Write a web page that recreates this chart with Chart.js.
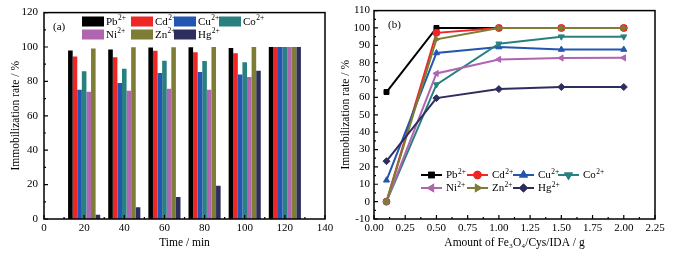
<!DOCTYPE html>
<html>
<head>
<meta charset="utf-8">
<script src="https://cdn.jsdelivr.net/npm/chart.js@4.4.1/dist/chart.umd.min.js"></script>
<style>
  html, body { margin: 0; padding: 0; background: #fff; }
  #wrap { position: relative; width: 675px; height: 262px; overflow: hidden; }
  canvas { position: absolute; top: 0; }
  #ca { left: 0; }
  #cb { left: 335px; }
</style>
</head>
<body>
<div id="wrap">
  <canvas id="ca" width="340" height="262"></canvas>
  <canvas id="cb" width="340" height="262"></canvas>
</div>
<script>
// ---------- data ----------
const ions = ['Pb', 'Cd', 'Cu', 'Co', 'Ni', 'Zn', 'Hg'];
const charge = '2+';
const ionColors = ['#000000', '#ee2626', '#2356b0', '#2a8080', '#b065b0', '#7d7d36', '#2e2e5e'];

// (a) time series
const times = [20, 40, 60, 80, 100, 120];
const timePb = [98, 98.5, 99.7, 99.8, 99.4, 100];
const timeCd = [94.5, 94.1, 97.8, 97.0, 96.4, 100];
const timeCu = [75.1, 79.0, 84.9, 85.5, 84.0, 100];
const timeCo = [85.9, 87.4, 92.0, 91.8, 91.2, 100];
const timeNi = [74.0, 74.6, 75.7, 75.1, 82.6, 100];
const timeZn = [99.2, 99.8, 99.8, 100, 100, 100];
const timeHg = [2.4, 6.8, 12.8, 19.4, 86.2, 100];

// (b) amount series
const amounts = [0.1, 0.5, 1.0, 1.5, 2.0];
const amtPb = [63.1, 100, 100, 100, 100];
const amtCd = [0, 97.2, 100, 100, 100];
const amtCu = [12.3, 85.6, 89.0, 87.6, 87.6];
const amtCo = [0, 67.4, 90.9, 95.0, 95.0];
const amtNi = [0, 73.8, 81.9, 82.7, 82.8];
const amtZn = [0, 93.5, 100, 100, 100];
const amtHg = [23.3, 59.6, 64.8, 66.0, 66.0];

// tick labels
const timeTicks = ['0', '20', '40', '60', '80', '100', '120', '140'];
const rateTicksA = ['0', '20', '40', '60', '80', '100', '120'];
const amountTicks = ['0.00', '0.25', '0.50', '0.75', '1.00', '1.25', '1.50', '1.75', '2.00', '2.25'];
const rateTicksB = ['-10', '0', '10', '20', '30', '40', '50', '60', '70', '80', '90', '100', '110'];

const titleA_x = 'Time / min';
const titleB_x = 'Amount of Fe\u2083O\u2084/Cys/IDA / g';
const titleY = 'Immobilization rate / %';
const panelA = '(a)';
const panelB = '(b)';

// ---------- helpers ----------
const FONT = '"Liberation Serif", "Times New Roman", "DejaVu Serif", serif';
const timeSeries = [timePb, timeCd, timeCu, timeCo, timeNi, timeZn, timeHg];
const amtSeries = [amtPb, amtCd, amtCu, amtCo, amtNi, amtZn, amtHg];
const pointStyles = ['rect', 'circle', 'triangle', 'triangle', 'triangle', 'triangle', 'rectRot'];
const pointRots = [0, 0, 0, 180, 270, 90, 0];

function ticksFrom(labels) {
  return function (scale) {
    scale.ticks = labels.map(l => ({ value: parseFloat(l) }));
  };
}
function labelFrom(labels) {
  return function (v, i) { return labels[i]; };
}

function drawSup(ctx, x, y, base, sup, size) {
  ctx.fillStyle = '#000';
  ctx.textAlign = 'left';
  ctx.textBaseline = 'middle';
  ctx.font = size + 'px ' + FONT;
  ctx.fillText(base, x, y);
  const w = ctx.measureText(base).width;
  ctx.font = (size * 0.68).toFixed(1) + 'px ' + FONT;
  ctx.fillText(sup, x + w + 0.3, y - size * 0.33);
}

function decorPlugin(cfg) {
  return {
    id: 'decor',
    afterDatasetsDraw(chart) {
      const ctx = chart.ctx;
      const a = chart.chartArea;
      ctx.save();
      ctx.strokeStyle = '#000';
      // inner ticks
      const xs = chart.scales.x, ys = chart.scales.y;
      const xv = cfg.xTicks.map(parseFloat), yv = cfg.yTicks.map(parseFloat);
      ctx.lineWidth = 1.2;
      ctx.beginPath();
      xv.forEach((v, i) => {
        const p = xs.getPixelForValue(v);
        ctx.moveTo(p, a.bottom); ctx.lineTo(p, a.bottom - 4);
        if (i < xv.length - 1) {
          const m = xs.getPixelForValue((v + xv[i + 1]) / 2);
          ctx.moveTo(m, a.bottom); ctx.lineTo(m, a.bottom - 2);
        }
      });
      yv.forEach((v, i) => {
        const p = ys.getPixelForValue(v);
        ctx.moveTo(a.left, p); ctx.lineTo(a.left + 4, p);
        if (i < yv.length - 1) {
          const m = ys.getPixelForValue((v + yv[i + 1]) / 2);
          ctx.moveTo(a.left, m); ctx.lineTo(a.left + 2, m);
        }
      });
      ctx.stroke();
      // frame
      ctx.lineWidth = 1.5;
      ctx.strokeRect(a.left, a.top, a.right - a.left, a.bottom - a.top);
      // panel label
      ctx.fillStyle = '#000';
      ctx.font = '11px ' + FONT;
      ctx.textBaseline = 'middle';
      ctx.textAlign = 'left';
      ctx.fillText(cfg.panel, a.left + cfg.panelDx, a.top + 15);
      ctx.restore();
    },
    afterDraw(chart) {
      const ctx = chart.ctx;
      const a = chart.chartArea;
      ctx.save();
      ions.forEach((ion, i) => {
        const row = i < 4 ? 0 : 1;
        const col = i < 4 ? i : i - 4;
        const x = a.left + cfg.legCols[col];
        const y = cfg.legRows[row];
        if (cfg.kind === 'box') {
          ctx.fillStyle = ionColors[i];
          ctx.fillRect(x, y - 5, 22, 10);
          drawSup(ctx, x + 24, y + 0.5, ion, charge, 11);
        } else {
          ctx.strokeStyle = ionColors[i];
          ctx.lineWidth = 2;
          ctx.beginPath(); ctx.moveTo(x, y); ctx.lineTo(x + 21, y); ctx.stroke();
          Chart.helpers.drawPoint(ctx, {
            pointStyle: pointStyles[i], rotation: pointRots[i], radius: 3.2, borderWidth: 1
          }, x + 10.5, y);
          ctx.fillStyle = ionColors[i];
          ctx.strokeStyle = ionColors[i];
          ctx.beginPath();
          Chart.helpers.drawPoint(ctx, {
            pointStyle: pointStyles[i], rotation: pointRots[i], radius: 3.2, borderWidth: 1
          }, x + 10.5, y);
          drawSup(ctx, x + 25, y + 0.5, ion, charge, 11);
        }
      });
      ctx.restore();
    }
  };
}

const tickFont = { family: FONT, size: 11 };
const titleFont = { family: FONT, size: 11.5 };

// ---------- chart (a) ----------
new Chart(document.getElementById('ca'), {
  type: 'bar',
  data: {
    datasets: ions.map((ion, i) => ({
      label: ion + charge,
      data: times.map((t, k) => ({ x: t, y: timeSeries[i][k] })),
      backgroundColor: ionColors[i],
      borderWidth: 0,
      barPercentage: 1.0,
      categoryPercentage: 0.8
    }))
  },
  options: {
    responsive: false,
    animation: false,
    devicePixelRatio: 1,
    layout: { padding: { top: 10, right: 15, left: 0, bottom: 0 } },
    plugins: { legend: { display: false }, tooltip: { enabled: false } },
    scales: {
      x: {
        type: 'linear', min: 0, max: 140, offset: false,
        afterBuildTicks: ticksFrom(timeTicks),
        afterFit(s) { s.height = 43; },
        grid: { display: false, drawTicks: false, offset: false },
        border: { display: false },
        ticks: { font: tickFont, color: '#000', padding: 3, maxRotation: 0, autoSkip: false, callback: labelFrom(timeTicks) },
        title: { display: true, text: titleA_x, font: titleFont, color: '#000', padding: { top: 0, bottom: 12 } }
      },
      y: {
        min: 0, max: 120,
        afterBuildTicks: ticksFrom(rateTicksA),
        afterFit(s) { s.width = 44; },
        grid: { display: false, drawTicks: false },
        border: { display: false },
        ticks: { font: tickFont, color: '#000', padding: 6, autoSkip: false, callback: labelFrom(rateTicksA) },
        title: { display: true, text: titleY, font: titleFont, color: '#000', padding: { top: 9, bottom: 0 } }
      }
    }
  },
  plugins: [decorPlugin({
    kind: 'box', xTicks: timeTicks, yTicks: rateTicksA, panel: panelA, panelDx: 9,
    legCols: [38, 87, 130, 175], legRows: [21.5, 34.5]
  })]
});

// ---------- chart (b) ----------
new Chart(document.getElementById('cb'), {
  type: 'line',
  data: {
    datasets: ions.map((ion, i) => ({
      label: ion + charge,
      data: amounts.map((m, k) => ({ x: m, y: amtSeries[i][k] })),
      borderColor: ionColors[i],
      backgroundColor: ionColors[i],
      borderWidth: 2,
      pointStyle: pointStyles[i],
      rotation: pointRots[i],
      pointRadius: 3.5,
      pointBorderWidth: 1,
      tension: 0,
      order: ions.length - i
    }))
  },
  options: {
    responsive: false,
    animation: false,
    devicePixelRatio: 1,
    layout: { padding: { top: 10, right: 20, left: 0, bottom: 0 } },
    plugins: { legend: { display: false }, tooltip: { enabled: false } },
    scales: {
      x: {
        type: 'linear', min: 0, max: 2.25,
        afterBuildTicks: ticksFrom(amountTicks),
        afterFit(s) { s.height = 43; },
        grid: { display: false, drawTicks: false },
        border: { display: false },
        ticks: { font: tickFont, color: '#000', padding: 3, maxRotation: 0, autoSkip: false, callback: labelFrom(amountTicks) },
        title: { display: true, text: titleB_x, font: titleFont, color: '#000', padding: { top: 0, bottom: 12 } }
      },
      y: {
        min: -10, max: 110,
        afterBuildTicks: ticksFrom(rateTicksB),
        afterFit(s) { s.width = 39; },
        grid: { display: false, drawTicks: false },
        border: { display: false },
        ticks: { font: tickFont, color: '#000', padding: 4, autoSkip: false, callback: labelFrom(rateTicksB) },
        title: { display: true, text: titleY, font: titleFont, color: '#000', padding: { top: 4, bottom: 0 } }
      }
    }
  },
  plugins: [decorPlugin({
    kind: 'line', xTicks: amountTicks, yTicks: rateTicksB, panel: panelB, panelDx: 14,
    legCols: [47, 93, 139, 184], legRows: [175, 188]
  })]
});
</script>
</body>
</html>
